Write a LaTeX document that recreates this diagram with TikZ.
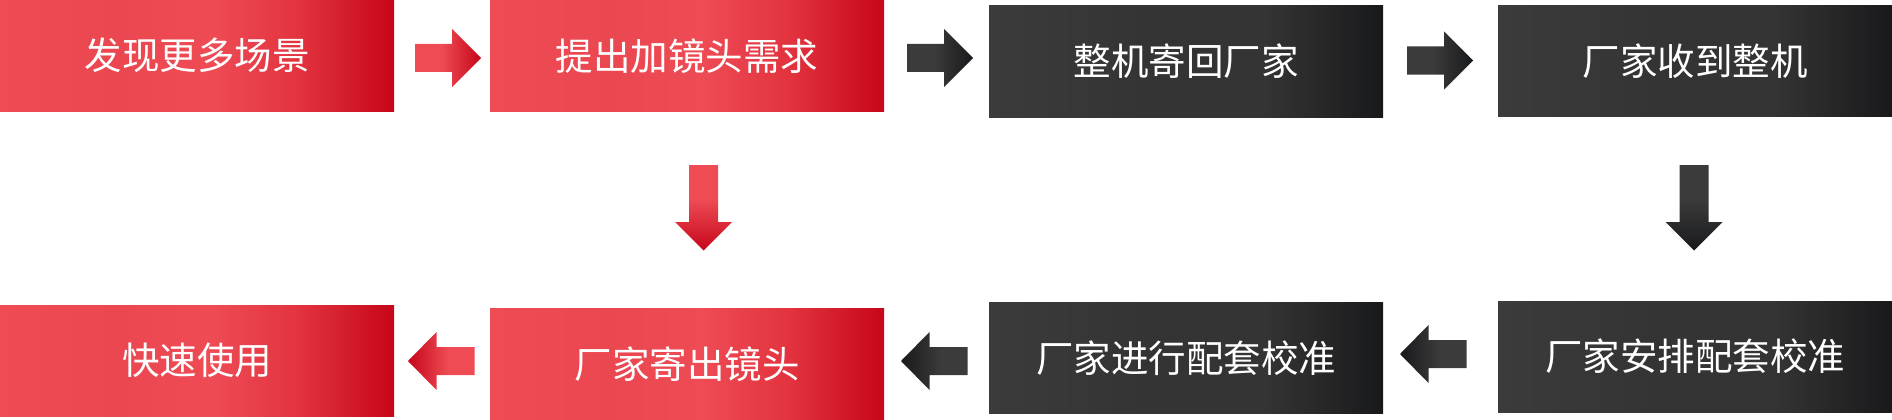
\documentclass[tikz,border=0pt]{standalone}
\usepackage{fontspec}
\newfontfamily\cjk{Noto Sans CJK SC}
\usetikzlibrary{calc}
\definecolor{redL}{HTML}{EE4B55}
\definecolor{redM}{HTML}{EB4751}
\definecolor{redN}{HTML}{E2333E}
\definecolor{redD}{HTML}{C6061A}
\definecolor{grayL}{HTML}{3B3B3B}
\definecolor{grayM}{HTML}{343434}
\definecolor{grayN}{HTML}{262627}
\definecolor{grayD}{HTML}{18191B}
\pgfdeclarehorizontalshading{redbox}{100bp}{color(0bp)=(redL); color(25bp)=(redL); color(40bp)=(redM); color(52bp)=(redL); color(63bp)=(redN); color(75bp)=(redD); color(100bp)=(redD)}
\pgfdeclarehorizontalshading{darkbox}{100bp}{color(0bp)=(grayL); color(25bp)=(grayL); color(45bp)=(grayM); color(60bp)=(grayM); color(68bp)=(grayN); color(75bp)=(grayD); color(100bp)=(grayD)}
\pgfdeclarehorizontalshading{redarr}{100bp}{color(0bp)=(redL); color(25bp)=(redL); color(45bp)=(redL); color(75bp)=(redD); color(100bp)=(redD)}
\pgfdeclarehorizontalshading{darkarr}{100bp}{color(0bp)=(grayL); color(25bp)=(grayL); color(45bp)=(grayL); color(75bp)=(grayD); color(100bp)=(grayD)}
\tikzset{
  box/.style={anchor=north west, minimum width=394pt, minimum height=111pt, inner sep=0pt, outer sep=0pt, text=white, font=\cjk\fontsize{37.5}{40}\selectfont},
  redfill/.style={box, shading=redbox},
  darkfill/.style={box, shading=darkbox},
  redra/.style={shading=redarr},
  darkra/.style={shading=darkarr},
  redla/.style={shading=redarr, shading angle=180},
  darkla/.style={shading=darkarr, shading angle=180},
  redda/.style={shading=redarr, shading angle=270},
  darkda/.style={shading=darkarr, shading angle=270},
}
\begin{document}
\begin{tikzpicture}[x=1pt,y=-1pt]
\useasboundingbox (0,0) rectangle (1892,420);
% boxes
\node[redfill]  (b1) at (0,0)     {发现更多场景};
\node[redfill]  (b2) at (490,0.5) {提出加镜头需求};
\node[darkfill] (b3) at (989,6)   {整机寄回厂家};
\node[darkfill] (b4) at (1498,5.5){厂家收到整机};
\node[redfill]  (b5) at (0,305)   {快速使用};
\node[redfill]  (b6) at (490,308.5){厂家寄出镜头};
\node[darkfill] (b7) at (989,302.5){厂家进行配套校准};
\node[darkfill] (b8) at (1498,301){厂家安排配套校准};
% right block arrows
\coordinate (r1) at (415,58);
\coordinate (r2) at (907,58);
\coordinate (r3) at (1407,60.5);
\foreach \c/\s in {r1/redra, r2/darkra, r3/darkra}{
  \path[\s, shift={(\c)}] (0,-14) -- (37,-14) -- (37,-29) -- (66,0) -- (37,29) -- (37,14) -- (0,14) -- cycle;
}
% left block arrows
\coordinate (l1) at (408,361);
\coordinate (l2) at (901,361);
\coordinate (l3) at (1400,354);
\foreach \c/\s in {l1/redla, l2/darkla, l3/darkla}{
  \path[\s, shift={(\c)}] (0,0) -- (28.5,-29) -- (28.5,-14) -- (66.5,-14) -- (66.5,14) -- (28.5,14) -- (28.5,29) -- cycle;
}
% down block arrows
\coordinate (d1) at (703.5,165);
\coordinate (d2) at (1694,165);
\foreach \c/\s in {d1/redda, d2/darkda}{
  \path[\s, shift={(\c)}] (-14.5,0) -- (14.5,0) -- (14.5,57) -- (28.5,57) -- (0,85.5) -- (-28.5,57) -- (-14.5,57) -- cycle;
}
\end{tikzpicture}
\end{document}
